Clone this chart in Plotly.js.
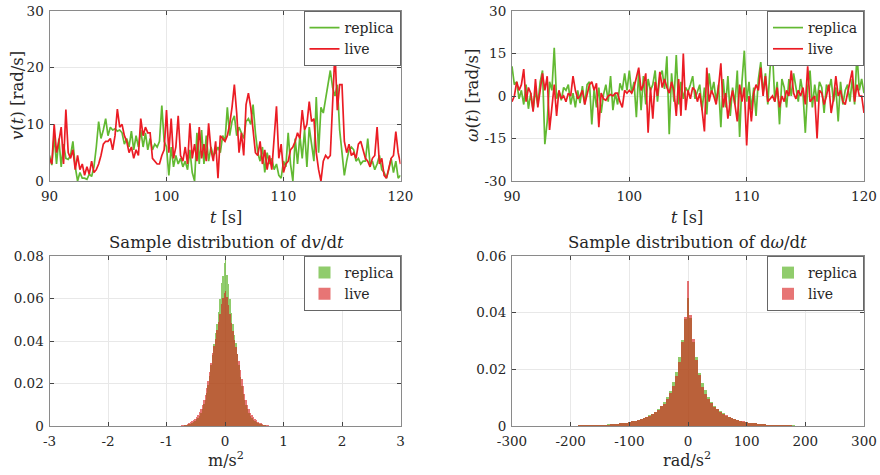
<!DOCTYPE html>
<html>
<head>
<meta charset="utf-8">
<script src="https://cdn.plot.ly/plotly-3.0.1.min.js"></script>
<style>
  html, body { margin: 0; padding: 0; background: #fff; }
  #chart { width: 880px; height: 475px; }
</style>
</head>
<body>
<div id="chart"></div>
<script>
// time axis: 90 s .. 120 s, sampled every 0.2 s
const tStart = 90;
const tStep = 0.2;

// v(t) [rad/s]
const vReplica = [
  4.5, 2.8, 8.0, 3.0, 7.5,   2.5, 6.5, 4.0, 3.8, 4.5,
  7.0, 2.5, 0.0, 1.5, 0.5,   0.5, 0.3, 1.2, 0.8, 2.5,
  6.0, 10.5, 7.5, 9.0, 11.0, 8.0, 9.5, 9.0, 9.2, 8.8,
  9.0, 8.5, 6.5, 7.5, 6.0,   8.8, 5.5, 8.0, 6.0, 9.0,
  6.0, 8.5, 5.5, 7.5, 5.5,   6.5, 6.0, 7.0, 13.3, 7.0,
  6.0, 1.0, 6.0, 2.5, 4.5,   3.0, 4.0, 2.5, 3.5, 2.0,
  5.5, 1.5, 0.0, 8.5, 3.0,   9.0, 3.0, 8.0, 3.5, 6.0,
  4.5, 5.0, 6.0, 5.0, 8.0,   7.0, 13.0, 8.0, 10.5, 11.5,
  8.0, 9.5, 8.5, 7.5, 10.5,  11.0, 10.0, 13.5, 8.5, 5.0,
  3.5, 6.0, 1.5, 5.0, 3.0,   4.0, 2.0, 3.0, 1.0, 0.5,
  3.5, 2.5, 8.5, 3.0, 0.0,   7.5, 3.0, 8.0, 4.0, 9.0,
  2.5, 9.5, 6.5, 3.5, 14.8,  5.0, 13.0, 12.0, 14.5, 17.0,
  19.5, 16.5, 15.0, 17.0, 9.0, 5.0, 1.0, 3.5, 5.5, 6.0,
  5.5, 3.5, 4.0, 3.0, 3.5,   3.5, 7.5, 3.0, 3.5, 2.0,
  3.0, 4.5, 2.0, 1.5, 0.5,   2.0, 4.0, 1.5, 3.5, 0.5,
  1.0
];
const vLive = [
  4.0, 3.0, 10.0, 5.0, 7.0,  9.5, 3.0, 12.6, 5.0, 4.0,
  5.5, 2.0, 4.5, 2.0, 3.0,   1.0, 2.5, 1.2, 3.5, 1.5,
  2.0, 3.0, 4.5, 6.5, 7.0,   7.0, 7.5, 5.5, 8.0, 12.7,
  9.5, 10.0, 8.0, 7.0, 5.0,  6.0, 4.0, 5.5, 4.5, 11.0,
  8.0, 9.5, 8.5, 8.5, 4.0,   3.5, 3.0, 3.0, 4.5, 5.5,
  12.5, 5.0, 11.0, 4.0, 6.0, 11.5, 4.5, 3.5, 6.0, 3.0,
  10.2, 4.0, 6.5, 3.5, 9.5,  4.0, 6.5, 3.5, 10.2, 5.5,
  3.5, 7.0, 0.5, 8.0, 7.5,   7.0, 8.0, 10.0, 13.0, 17.0,
  12.0, 5.0, 8.5, 4.5, 13.5, 15.5, 13.0, 8.5, 5.0, 4.5,
  7.0, 3.0, 5.5, 2.0, 4.5,   2.0, 7.5, 13.2, 4.0, 6.5,
  1.5, 3.0, 3.5, 5.5, 6.0,   7.0, 8.5, 7.5, 12.5, 9.0,
  10.0, 14.0, 10.5, 11.0, 5.0, 2.0, 0.0, 3.5, 4.5, 4.0,
  4.5, 13.0, 23.0, 12.5, 17.0, 17.0, 7.0, 5.0, 6.5, 4.5,
  5.0, 4.0, 6.5, 7.0, 5.5,   4.0, 3.5, 2.5, 4.0, 4.5,
  9.5, 3.0, 4.0, 1.0, 0.5,   2.5, 4.0, 4.5, 8.7, 5.0,
  3.0
];

// omega(t) [rad/s]
const wReplica = [
  10.5, 4.0, 5.0, -1.0, 2.0,  -3.0, 4.0, -4.5, 1.0, -5.0,
  2.0, -3.0, 5.0, 9.0, -17.0, -9.0, 5.0, 2.0, 17.0, -1.0,
  1.5, -1.5, 3.0, 2.0, 4.0,   -3.0, 1.0, -4.0, 2.0, -2.5,
  3.5, -3.0, 4.0, 5.0, -10.0, 2.5, -4.0, 3.0, -6.0, 0.5,
  4.0, -2.0, 7.0, -5.0, 1.0,  -3.0, 4.5, 2.0, 8.0, 2.0,
  9.0, 1.0, 5.0, -7.5, 9.0,   -5.0, 7.0, -3.0, 6.0, 2.0,
  4.0, 9.0, -2.0, 7.0, 9.0,   2.5, 14.0, -13.5, 8.0, -2.0,
  14.5, -3.0, 5.0, -1.0, 3.0, 1.5, 4.0, 7.0, -1.0, 2.0,
  4.0, -5.0, 3.0, -6.5, 8.0,  1.0, 5.0, -2.0, 4.0, -11.0,
  6.0, -4.0, 7.0, -7.0, 3.0,  -3.0, 9.0, -14.5, 5.0, 16.0,
  -2.0, 5.0, -5.0, 3.0, -7.0, 6.0, 12.0, 1.0, 8.0, -3.0,
  10.0, 15.5, -2.0, 5.0, -10.0, 6.0, 3.0, -4.0, 6.0, 0.0,
  8.0, 3.0, -2.0, 6.0, 1.0,   -13.0, 3.0, 9.0, -4.0, 4.0,
  -2.0, 5.0, 3.0, -6.0, 4.0,  2.0, 6.0, -2.0, 3.0, -9.0,
  5.0, -3.0, 2.0, 4.0, -2.0,  6.0, -3.0, 15.0, 2.0, 6.0,
  1.0
];
const wLive = [
  -2.0, 0.0, 5.0, 2.0, 4.0,   9.5, -2.0, 3.0, 1.0, -5.5,
  6.0, -4.0, 2.0, 8.0, 2.0,   7.0, -12.0, -3.0, 4.0, -7.0,
  2.0, -1.0, 0.0, -2.0, 1.0,  0.0, 7.0, 2.0, -1.0, 0.0,
  2.0, -3.0, 0.0, 4.0, 5.0,   2.0, 4.5, -11.0, 1.0, -1.0,
  -1.5, 0.0, 0.5, 0.0, 1.0,   1.0, -2.0, -4.0, 2.0, 1.0,
  2.0, 1.0, 3.0, 6.0, 10.0,   2.0, 4.0, 8.0, -13.0, 3.0,
  -8.0, 5.0, 0.0, 8.5, 3.0,   6.0, 3.0, 1.0, 5.0, 2.0,
  -7.0, 6.0, -7.0, 15.0, -5.0, 2.0, -1.0, 3.0, 2.0, -2.0,
  1.0, -5.0, -12.5, 10.0, -2.0, 2.0, 0.0, -3.0, 3.0, 11.5,
  -4.0, 1.0, -8.0, -2.0, 2.0, -3.0, -9.0, 4.0, -2.0, 3.0,
  -17.5, 0.0, -9.0, 1.0, 4.0, 2.0, 10.0, 0.0, 7.0, -2.0,
  -1.0, 0.0, -2.0, 3.0, -4.0, 0.0, -2.0, 2.0, 0.0, 9.0,
  1.0, -1.0, 2.0, 0.0, 3.0,   -3.0, 10.5, -2.0, -1.0, 0.0,
  -15.0, 2.0, 1.0, -3.0, 0.0, 4.0, -6.0, -1.0, 7.0, 0.0,
  2.0, -2.0, -3.0, 1.0, 4.0,  9.0, -2.0, 4.0, 0.0, 0.0,
  -6.0
];

// histogram of dv/dt: bins 0.025 m/s^2 wide, first centre -0.9875
const dvBinStart = -0.9875;
const dvBinWidth = 0.025;
const dvReplica = [
  0, 0, 0, 0, 0, 0.00005, 0.00005, 0.0001, 0.00005, 0.0001,
  0.00015, 0.0002, 0.0003, 0.0005, 0.0006, 0.0008, 0.0011, 0.0013, 0.0018, 0.0024,
  0.0031, 0.0037, 0.0049, 0.0062, 0.0079, 0.0102, 0.0121, 0.0153, 0.0192, 0.0235,
  0.0285, 0.0332, 0.0385, 0.0436, 0.0478, 0.0535, 0.0597, 0.0672, 0.0705, 0.0765,
  0.0800, 0.0712, 0.0668, 0.0596, 0.0531, 0.0482, 0.0428, 0.0391, 0.0337, 0.0288,
  0.0231, 0.0188, 0.0151, 0.0124, 0.0098, 0.0079, 0.0061, 0.0047, 0.0039, 0.0029,
  0.0023, 0.0018, 0.0012, 0.0010, 0.0008, 0.0006, 0.0004, 0.0003, 0.0002, 0.00015,
  0.0001, 0.0001, 0.00005, 0.00005, 0, 0, 0, 0, 0, 0
];
const dvLive = [
  0, 0, 0, 0.00005, 0.00005, 0.0001, 0.0001, 0.0001, 0.00015, 0.0002,
  0.0003, 0.0004, 0.0006, 0.0007, 0.0009, 0.0013, 0.0017, 0.0022, 0.0028, 0.0035,
  0.0043, 0.0054, 0.0066, 0.0082, 0.0101, 0.0122, 0.0148, 0.0181, 0.0214, 0.0256,
  0.0297, 0.0342, 0.0378, 0.0409, 0.0452, 0.0488, 0.0527, 0.0575, 0.0602, 0.0628,
  0.0633, 0.0608, 0.0571, 0.0526, 0.0483, 0.0447, 0.0405, 0.0372, 0.0338, 0.0306,
  0.0262, 0.0221, 0.0186, 0.0152, 0.0124, 0.0101, 0.0081, 0.0063, 0.0051, 0.0041,
  0.0032, 0.0026, 0.0020, 0.0015, 0.0012, 0.0009, 0.0007, 0.0005, 0.0004, 0.0003,
  0.0002, 0.0002, 0.00015, 0.0001, 0.0001, 0.00005, 0.00005, 0, 0, 0
];

// histogram of domega/dt: bins 5 rad/s^2 wide, first centre -255
const dwBinStart = -255;
const dwBinWidth = 5;
const dwReplica = [
  0.00004, 0.00003, 0.00005, 0.00005, 0.00007, 0.00006, 0.00009, 0.00008, 0.00011, 0.0001,
  0.00012, 0.00013, 0.00015, 0.00015, 0.00018, 0.00021, 0.00022, 0.00026, 0.00028, 0.00031,
  0.00035, 0.00038, 0.00044, 0.00049, 0.00055, 0.00064, 0.0007, 0.00082, 0.0009, 0.00105,
  0.0012, 0.0014, 0.0016, 0.0018, 0.0021, 0.0024, 0.0028, 0.0033, 0.0038, 0.0043,
  0.0050, 0.0061, 0.0071, 0.0086, 0.0103, 0.0124, 0.0157, 0.0192, 0.0243, 0.0302, 0.0378,
  0.0452,
  0.0381, 0.0298, 0.0244, 0.0188, 0.0152, 0.0127, 0.0101, 0.0086, 0.0072, 0.0059,
  0.0052, 0.0045, 0.0037, 0.0033, 0.0027, 0.0025, 0.0021, 0.0018, 0.0015, 0.0014,
  0.0012, 0.0011, 0.0009, 0.0008, 0.00072, 0.00062, 0.00052, 0.00046, 0.0004, 0.00035,
  0.00031, 0.00028, 0.00024, 0.00022, 0.00019, 0.00018, 0.00015, 0.00014, 0.00012, 0.00011,
  0.0001, 0.00009, 0.00009, 0.00007, 0.00006, 0.00006, 0.00005, 0.00004, 0.00004, 0.00003, 0.00002
];
const dwLive = [
  0.00003, 0.00005, 0.00003, 0.00006, 0.00004, 0.00008, 0.00006, 0.0001, 0.00008, 0.00012,
  0.0001, 0.00014, 0.00012, 0.00016, 0.00019, 0.0002, 0.00024, 0.00022, 0.0003, 0.00027,
  0.00032, 0.00036, 0.0004, 0.00047, 0.00052, 0.0006, 0.00072, 0.0008, 0.00092, 0.0011,
  0.0012, 0.0015, 0.0016, 0.0019, 0.0022, 0.0025, 0.0029, 0.0033, 0.0037, 0.0044,
  0.0051, 0.0057, 0.0069, 0.0079, 0.0097, 0.0117, 0.0142, 0.0176, 0.0227, 0.0296, 0.0385,
  0.0512,
  0.0392, 0.0306, 0.0233, 0.0181, 0.0138, 0.0113, 0.0096, 0.0081, 0.0067, 0.0059,
  0.0049, 0.0042, 0.0038, 0.0031, 0.0028, 0.0023, 0.0021, 0.0017, 0.0016, 0.0013,
  0.0012, 0.0010, 0.0009, 0.00075, 0.0007, 0.0006, 0.00048, 0.00045, 0.00038, 0.00036,
  0.0003, 0.00026, 0.00025, 0.0002, 0.0002, 0.00017, 0.00016, 0.00013, 0.00012, 0.00012,
  0.0001, 0.00009, 0.00008, 0.00008, 0.00006, 0.00006, 0.00005, 0.00004, 0.00004, 0.00003, 0.00003
];

// tick labels
const tTicks = [90, 100, 110, 120];
const vTicks = [0, 10, 20, 30];
const wTicks = [-30, -15, 0, 15, 30];
const wTickText = ["-30", "-15", "0", "15", "30"];
const dvTicks = [-3, -2, -1, 0, 1, 2, 3];
const dvTickText = ["-3", "-2", "-1", "0", "1", "2", "3"];
const dwTicks = [-300, -200, -100, 0, 100, 200, 300];
const dwTickText = ["-300", "-200", "-100", "0", "100", "200", "300"];
const pTicksV = [0, 0.02, 0.04, 0.06, 0.08];
const pTicksW = [0, 0.02, 0.04, 0.06];

const time = vReplica.map((_, i) => tStart + i * tStep);
const dvCenters = dvReplica.map((_, i) => dvBinStart + i * dvBinWidth);
const dwCenters = dwReplica.map((_, i) => dwBinStart + i * dwBinWidth);

const serif = "DejaVu Serif";
const ink = "#262626";
const green = "rgb(98,185,50)";
const red = "rgb(235,28,36)";
const greenFill = "rgba(70,170,10,0.6)";
const redFill = "rgba(215,25,25,0.6)";

function axis(domain, anchor, range, tickvals, ticktext, isX) {
  return {
    domain: domain, anchor: anchor, range: range,
    tickvals: tickvals, ticktext: ticktext || tickvals.map(String),
    ticks: "inside", ticklen: 4, tickcolor: "#444",
    ticklabelstandoff: isX ? 3 : 2,
    showline: true, linecolor: "#8a8a8a", linewidth: 1, mirror: "ticks",
    showgrid: true, gridcolor: "#e8e8e8", zeroline: false,
    tickfont: { family: serif, size: 13.5, color: ink },
    automargin: false, fixedrange: true
  };
}

function legendBox(xRight, yTop) {
  return {
    x: xRight, xanchor: "right", y: yTop, yanchor: "top",
    bgcolor: "#fff", bordercolor: "#666", borderwidth: 1,
    font: { family: serif, size: 14, color: ink },
    itemwidth: 30, tracegroupgap: 0
  };
}

const traces = [
  { x: time, y: vReplica, xaxis: "x", yaxis: "y", name: "replica", mode: "lines",
    line: { color: green, width: 1.7 }, legend: "legend" },
  { x: time, y: vLive, xaxis: "x", yaxis: "y", name: "live", mode: "lines",
    line: { color: red, width: 1.7 }, legend: "legend" },
  { x: time, y: wReplica, xaxis: "x2", yaxis: "y2", name: "replica", mode: "lines",
    line: { color: green, width: 1.7 }, legend: "legend2" },
  { x: time, y: wLive, xaxis: "x2", yaxis: "y2", name: "live", mode: "lines",
    line: { color: red, width: 1.7 }, legend: "legend2" },
  { type: "bar", x: dvCenters, y: dvReplica, width: dvBinWidth, xaxis: "x3", yaxis: "y3",
    name: "replica", marker: { color: greenFill, line: { width: 0 } }, legend: "legend3" },
  { type: "bar", x: dvCenters, y: dvLive, width: dvBinWidth, xaxis: "x3", yaxis: "y3",
    name: "live", marker: { color: redFill, line: { width: 0 } }, legend: "legend3" },
  { type: "bar", x: dwCenters, y: dwReplica, width: dwBinWidth, xaxis: "x4", yaxis: "y4",
    name: "replica", marker: { color: greenFill, line: { width: 0 } }, legend: "legend4" },
  { type: "bar", x: dwCenters, y: dwLive, width: dwBinWidth, xaxis: "x4", yaxis: "y4",
    name: "live", marker: { color: redFill, line: { width: 0 } }, legend: "legend4" }
];

// panel boxes in paper units
const colL = [49.5 / 880, 400.5 / 880];
const colR = [512 / 880, 864 / 880];
const rowT = [1 - 181 / 475, 1 - 11 / 475];
const rowB = [1 - 426 / 475, 1 - 256 / 475];

function label(text, x, y, angle, size) {
  return {
    text: text, x: x, y: y, xref: "paper", yref: "paper",
    xanchor: "center", yanchor: "middle", showarrow: false, textangle: angle || 0,
    font: { family: serif, size: size || 16, color: ink }
  };
}

const layout = {
  width: 880, height: 475,
  margin: { l: 0, r: 0, t: 0, b: 0 },
  paper_bgcolor: "#fff", plot_bgcolor: "#fff",
  font: { family: serif, color: ink, size: 14 },
  barmode: "overlay", bargap: 0,
  showlegend: true,
  xaxis: axis(colL, "y", [90, 120], tTicks, null, true),
  yaxis: axis(rowT, "x", [0, 30], vTicks),
  xaxis2: axis(colR, "y2", [90, 120], tTicks, null, true),
  yaxis2: axis(rowT, "x2", [-30, 30], wTicks, wTickText),
  xaxis3: axis(colL, "y3", [-3, 3], dvTicks, dvTickText, true),
  yaxis3: axis(rowB, "x3", [0, 0.08], pTicksV),
  xaxis4: axis(colR, "y4", [-300, 300], dwTicks, dwTickText, true),
  yaxis4: axis(rowB, "x4", [0, 0.06], pTicksW),
  legend: legendBox(colL[1], rowT[1]),
  legend2: legendBox(colR[1], rowT[1]),
  legend3: legendBox(colL[1], rowB[1]),
  legend4: legendBox(colR[1], rowB[1]),
  annotations: [
    label("<i>v</i>(<i>t</i>) [rad/s]", 17 / 880, 1 - 96 / 475, -90, 16.5),
    label("<i>ω</i>(<i>t</i>) [rad/s]", 472 / 880, 1 - 96 / 475, -90, 16.5),
    label("<i>t</i> [s]", 226 / 880, 1 - 218 / 475),
    label("<i>t</i> [s]", 687 / 880, 1 - 218 / 475),
    label("Sample distribution of d<i>v</i>/d<i>t</i>", 226 / 880, 1 - 242 / 475, 0, 16.5),
    label("Sample distribution of d<i>ω</i>/d<i>t</i>", 687 / 880, 1 - 242 / 475, 0, 16.5),
    label("m/s<sup>2</sup>", 226 / 880, 1 - 459 / 475),
    label("rad/s<sup>2</sup>", 687 / 880, 1 - 459 / 475)
  ]
};

Plotly.newPlot("chart", traces, layout, { displayModeBar: false, staticPlot: true });
</script>
</body>
</html>
